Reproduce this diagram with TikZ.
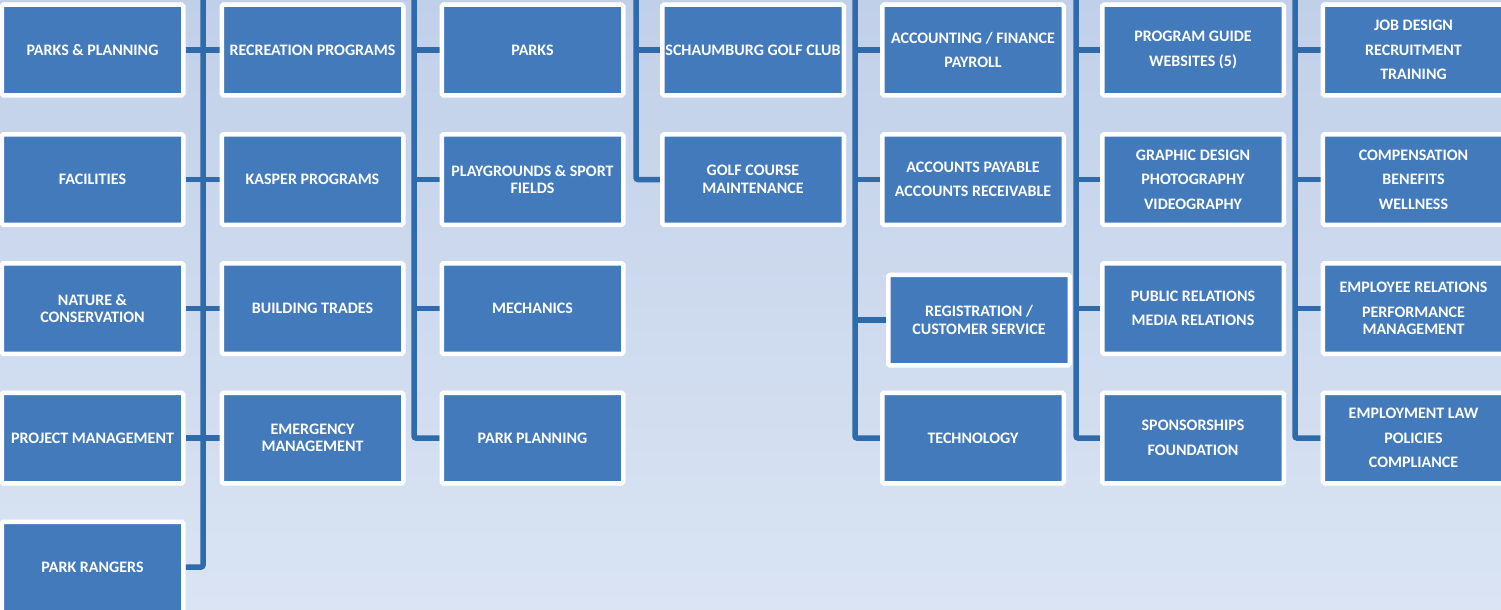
\documentclass[tikz,border=0pt]{standalone}
\usepackage{fontspec}
\setmainfont{Carlito}
\definecolor{bgtop}{RGB}{193,208,233}
\definecolor{bgbot}{RGB}{218,228,243}
\definecolor{boxblue}{RGB}{66,122,188}
\definecolor{lineblue}{RGB}{47,106,170}
\pgfdeclarelayer{back}
\pgfdeclarelayer{lines}
\pgfsetlayers{back,lines,main}
\tikzset{
  orgbox/.style={draw=white, line width=4.5pt, fill=boxblue, minimum width=181.5pt,
    minimum height=90.5pt, rounded corners=1.5pt, text=white, align=center, inner sep=0pt,
    font=\fontsize{16}{17.5}\selectfont\bfseries},
  conn/.style={draw=lineblue, line width=5.5pt, rounded corners=2pt}
}
\begin{document}
\begin{tikzpicture}[x=1pt,y=-1pt]
\clip (0,0) rectangle (1501,610);
\begin{pgfonlayer}{back}
\shade[top color=bgtop, bottom color=bgbot] (0,0) rectangle (1501,610);
\end{pgfonlayer}

\def\ca{92.5}\def\cb{312.5}\def\cc{532.5}\def\cd{753}\def\ce{973}\def\cf{1193}\def\cg{1413.5}
\def\ra{50}\def\rb{179.5}\def\rc{308.5}\def\rd{438}\def\re{567}

\coordinate (ta) at (203,-10);
\coordinate (tb) at (414,-10);
\coordinate (tc) at (636,-10);
\coordinate (td) at (855,-10);
\coordinate (te) at (1076,-10);
\coordinate (tf) at (1295,-10);

% ---------- boxes ----------
\node[orgbox] (a1) at (\ca,\ra) {PARKS \& PLANNING};
\node[orgbox] (a2) at (\ca,\rb) {FACILITIES};
\node[orgbox] (a3) at (\ca,\rc) {NATURE \&\\CONSERVATION};
\node[orgbox] (a4) at (\ca,\rd) {PROJECT MANAGEMENT};
\node[orgbox] (a5) at (\ca,\re) {PARK RANGERS};

\node[orgbox] (b1) at (\cb,\ra) {RECREATION PROGRAMS};
\node[orgbox] (b2) at (\cb,\rb) {KASPER PROGRAMS};
\node[orgbox] (b3) at (\cb,\rc) {BUILDING TRADES};
\node[orgbox] (b4) at (\cb,\rd) {EMERGENCY\\MANAGEMENT};

\node[orgbox] (c1) at (\cc,\ra) {PARKS};
\node[orgbox] (c2) at (\cc,\rb) {PLAYGROUNDS \& SPORT\\FIELDS};
\node[orgbox] (c3) at (\cc,\rc) {MECHANICS};
\node[orgbox] (c4) at (\cc,\rd) {PARK PLANNING};

\node[orgbox] (d1) at (\cd,\ra) {SCHAUMBURG GOLF CLUB};
\node[orgbox] (d2) at (\cd,\rb) {GOLF COURSE\\MAINTENANCE};

\node[orgbox] (e1) at (\ce,\ra) {ACCOUNTING / FINANCE\\[7pt]PAYROLL};
\node[orgbox] (e2) at (\ce,\rb) {ACCOUNTS PAYABLE\\[7pt]ACCOUNTS RECEIVABLE};
\node[orgbox] (e3) at (979,320) {REGISTRATION /\\CUSTOMER SERVICE};
\node[orgbox] (e4) at (\ce,\rd) {TECHNOLOGY};

\node[orgbox] (f1) at (\cf,\ra) {PROGRAM GUIDE\\[7pt]WEBSITES (5)};
\node[orgbox] (f2) at (\cf,\rb) {GRAPHIC DESIGN\\[7pt]PHOTOGRAPHY\\[7pt]VIDEOGRAPHY};
\node[orgbox] (f3) at (\cf,\rc) {PUBLIC RELATIONS\\[7pt]MEDIA RELATIONS};
\node[orgbox] (f4) at (\cf,\rd) {SPONSORSHIPS\\[7pt]FOUNDATION};

\node[orgbox] (g1) at (\cg,\ra) {JOB DESIGN\\[7pt]RECRUITMENT\\[7pt]TRAINING};
\node[orgbox] (g2) at (\cg,\rb) {COMPENSATION\\[7pt]BENEFITS\\[7pt]WELLNESS};
\node[orgbox] (g3) at (\cg,\rc) {EMPLOYEE RELATIONS\\[7pt]PERFORMANCE\\MANAGEMENT};
\node[orgbox] (g4) at (\cg,\rd) {EMPLOYMENT LAW\\[7pt]POLICIES\\[7pt]COMPLIANCE};

% ---------- connectors (behind boxes) ----------
\begin{pgfonlayer}{lines}
% group A: shared trunk between columns 1 and 2
\draw[conn] (ta) |- (a5.east);
\foreach \i in {1,2,3,4} { \draw[conn] (a\i.east) -- (b\i.west); }
% group B
\draw[conn] (tb) |- (c4.west);
\foreach \i in {1,2,3} { \draw[conn] (tb |- c\i.west) -- (c\i.west); }
% group C
\draw[conn] (tc) |- (d2.west);
\draw[conn] (tc |- d1.west) -- (d1.west);
% group D
\draw[conn] (td) |- (e4.west);
\foreach \i in {1,2,3} { \draw[conn] (td |- e\i.west) -- (e\i.west); }
% group E
\draw[conn] (te) |- (f4.west);
\foreach \i in {1,2,3} { \draw[conn] (te |- f\i.west) -- (f\i.west); }
% group F
\draw[conn] (tf) |- (g4.west);
\foreach \i in {1,2,3} { \draw[conn] (tf |- g\i.west) -- (g\i.west); }
\end{pgfonlayer}
\end{tikzpicture}
\end{document}
